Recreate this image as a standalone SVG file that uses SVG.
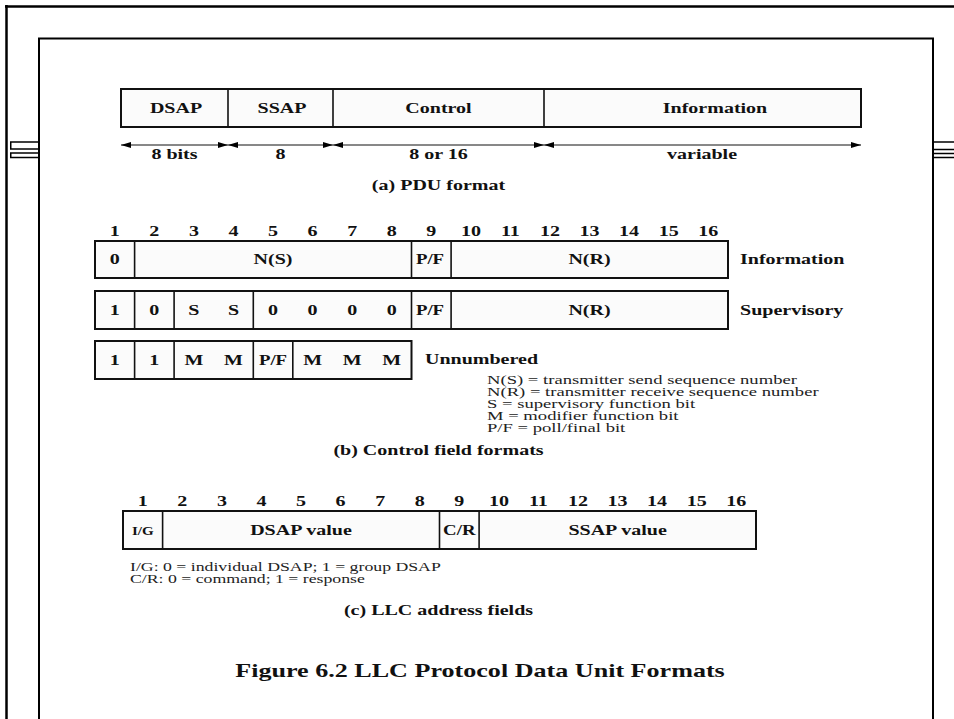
<svg xmlns="http://www.w3.org/2000/svg" width="954" height="719" viewBox="0 0 954 719">
<defs>
<marker id="ah" markerWidth="10" markerHeight="6" refX="10" refY="3" orient="auto-start-reverse" markerUnits="userSpaceOnUse">
<path d="M0,0 L10,3 L0,6 z" fill="#000"/>
</marker>
<style>
text{font-family:"Liberation Serif","Times New Roman",serif;fill:#111}
.b{font-weight:bold;font-size:14.5px;text-anchor:middle}
.bl{font-weight:bold;font-size:14.5px;text-anchor:start}
.r{font-size:12.5px;text-anchor:start;fill:#222}
.cap{font-weight:bold;font-size:18px;text-anchor:middle}
.box{fill:#fbfbfb;stroke:#111;stroke-width:2}
.div{stroke:#111;stroke-width:1.6}
.frame{stroke:#000;fill:none}
.dim{stroke:#111;stroke-width:1}
</style>
</defs>
<rect width="954" height="719" fill="#fff"/>
<g id="frame">
<line class="frame" x1="5" y1="6.5" x2="954" y2="6.5" stroke-width="2.5"/>
<line class="frame" x1="6.5" y1="5" x2="6.5" y2="719" stroke-width="2.5"/>
<line class="frame" x1="38" y1="38.5" x2="934" y2="38.5" stroke-width="2"/>
<line class="frame" x1="39" y1="38" x2="39" y2="719" stroke-width="2"/>
<line class="frame" x1="933" y1="38" x2="933" y2="719" stroke-width="2"/>
<rect class="frame" x="10.75" y="142" width="28" height="7" stroke-width="1.5"/>
<rect class="frame" x="10.75" y="153" width="28" height="4.5" stroke-width="1.5"/>
<line class="frame" x1="934" y1="142" x2="954" y2="142" stroke-width="1.5" stroke="#444"/>
<line class="frame" x1="934" y1="149.5" x2="954" y2="149.5" stroke-width="1.5"/>
<line class="frame" x1="934" y1="153.5" x2="954" y2="153.5" stroke-width="1.5"/>
<line class="frame" x1="934" y1="157.5" x2="954" y2="157.5" stroke-width="1.5"/>
</g>

<g id="pdu">
<rect class="box" x="121" y="89" width="740" height="38" stroke-width="1.6"/>
<line class="div" x1="228" y1="89" x2="228" y2="127"/>
<line class="div" x1="333" y1="89" x2="333" y2="127"/>
<line class="div" x1="544" y1="89" x2="544" y2="127"/>
<text class="b" transform="translate(176,113) scale(1.38,1)">DSAP</text>
<text class="b" transform="translate(282,113) scale(1.38,1)">SSAP</text>
<text class="b" transform="translate(438.5,113) scale(1.38,1)">Control</text>
<text class="b" transform="translate(715,113) scale(1.38,1)">Information</text>
<text class="b" transform="translate(174.5,159) scale(1.38,1)">8 bits</text>
<text class="b" transform="translate(280.5,159) scale(1.38,1)">8</text>
<text class="b" transform="translate(438.5,159) scale(1.38,1)">8 or 16</text>
<text class="b" transform="translate(702,159) scale(1.38,1)">variable</text>
<text class="b" transform="translate(438.5,190) scale(1.38,1)">(a) PDU format</text>
</g>

<g id="connectors">
<line class="dim" x1="121" y1="145" x2="228" y2="145" marker-start="url(#ah)" marker-end="url(#ah)"/>
<line class="dim" x1="228" y1="145" x2="333" y2="145" marker-start="url(#ah)" marker-end="url(#ah)"/>
<line class="dim" x1="333" y1="145" x2="544" y2="145" marker-start="url(#ah)" marker-end="url(#ah)"/>
<line class="dim" x1="544" y1="145" x2="861" y2="145" marker-start="url(#ah)" marker-end="url(#ah)"/>
</g>

<g id="control-bits">
<text class="b" transform="translate(114.8,236) scale(1.38,1)">1</text>
<text class="b" transform="translate(154.3,236) scale(1.38,1)">2</text>
<text class="b" transform="translate(193.9,236) scale(1.38,1)">3</text>
<text class="b" transform="translate(233.5,236) scale(1.38,1)">4</text>
<text class="b" transform="translate(273,236) scale(1.38,1)">5</text>
<text class="b" transform="translate(312.6,236) scale(1.38,1)">6</text>
<text class="b" transform="translate(352.2,236) scale(1.38,1)">7</text>
<text class="b" transform="translate(391.7,236) scale(1.38,1)">8</text>
<text class="b" transform="translate(431.3,236) scale(1.38,1)">9</text>
<text class="b" transform="translate(470.9,236) scale(1.38,1)">10</text>
<text class="b" transform="translate(510.4,236) scale(1.38,1)">11</text>
<text class="b" transform="translate(550,236) scale(1.38,1)">12</text>
<text class="b" transform="translate(589.6,236) scale(1.38,1)">13</text>
<text class="b" transform="translate(629.1,236) scale(1.38,1)">14</text>
<text class="b" transform="translate(668.7,236) scale(1.38,1)">15</text>
<text class="b" transform="translate(708.3,236) scale(1.38,1)">16</text>
</g>

<g id="information-format">
<rect class="box" x="95" y="241" width="633" height="37"/>
<line class="div" x1="134.6" y1="241" x2="134.6" y2="278"/>
<line class="div" x1="411.5" y1="241" x2="411.5" y2="278" stroke-width="2"/>
<line class="div" x1="451.1" y1="241" x2="451.1" y2="278"/>
<text class="b" transform="translate(114.8,264) scale(1.38,1)">0</text>
<text class="b" transform="translate(273,264) scale(1.38,1)">N(S)</text>
<text class="b" transform="translate(430,264) scale(1.3,1)">P/F</text>
<text class="b" transform="translate(589.5,264) scale(1.38,1)">N(R)</text>
<text class="bl" transform="translate(740,264) scale(1.38,1)">Information</text>
</g>

<g id="supervisory-format">
<rect class="box" x="95" y="291" width="633" height="38"/>
<line class="div" x1="134.6" y1="291" x2="134.6" y2="329"/>
<line class="div" x1="174.1" y1="291" x2="174.1" y2="329"/>
<line class="div" x1="253.3" y1="291" x2="253.3" y2="329"/>
<line class="div" x1="411.5" y1="291" x2="411.5" y2="329" stroke-width="2"/>
<line class="div" x1="451.1" y1="291" x2="451.1" y2="329"/>
<text class="b" transform="translate(114.8,315) scale(1.38,1)">1</text>
<text class="b" transform="translate(154.3,315) scale(1.38,1)">0</text>
<text class="b" transform="translate(193.9,315) scale(1.38,1)">S</text>
<text class="b" transform="translate(233.5,315) scale(1.38,1)">S</text>
<text class="b" transform="translate(273,315) scale(1.38,1)">0</text>
<text class="b" transform="translate(312.6,315) scale(1.38,1)">0</text>
<text class="b" transform="translate(352.2,315) scale(1.38,1)">0</text>
<text class="b" transform="translate(391.7,315) scale(1.38,1)">0</text>
<text class="b" transform="translate(430,315) scale(1.3,1)">P/F</text>
<text class="b" transform="translate(589.5,315) scale(1.38,1)">N(R)</text>
<text class="bl" transform="translate(740,315) scale(1.38,1)">Supervisory</text>
</g>

<g id="unnumbered-format">
<rect class="box" x="95" y="341" width="316.5" height="38"/>
<line class="div" x1="134.6" y1="341" x2="134.6" y2="379"/>
<line class="div" x1="174.1" y1="341" x2="174.1" y2="379"/>
<line class="div" x1="253.3" y1="341" x2="253.3" y2="379"/>
<line class="div" x1="292.8" y1="341" x2="292.8" y2="379"/>
<text class="b" transform="translate(114.8,365) scale(1.38,1)">1</text>
<text class="b" transform="translate(154.3,365) scale(1.38,1)">1</text>
<text class="b" transform="translate(193.9,365) scale(1.38,1)">M</text>
<text class="b" transform="translate(233.5,365) scale(1.38,1)">M</text>
<text class="b" transform="translate(273,365) scale(1.3,1)">P/F</text>
<text class="b" transform="translate(312.6,365) scale(1.38,1)">M</text>
<text class="b" transform="translate(352.2,365) scale(1.38,1)">M</text>
<text class="b" transform="translate(391.7,365) scale(1.38,1)">M</text>
<text class="bl" transform="translate(425,364) scale(1.38,1)">Unnumbered</text>
</g>

<g id="legend">
<text class="r" transform="translate(487,384) scale(1.49,1)">N(S) = transmitter send sequence number</text>
<text class="r" transform="translate(487,396) scale(1.49,1)">N(R) = transmitter receive sequence number</text>
<text class="r" transform="translate(487,408) scale(1.49,1)">S = supervisory function bit</text>
<text class="r" transform="translate(487,420) scale(1.49,1)">M = modifier function bit</text>
<text class="r" transform="translate(487,432) scale(1.49,1)">P/F = poll/final bit</text>
<text class="b" transform="translate(438.5,455) scale(1.38,1)">(b) Control field formats</text>
</g>

<g id="address-bits">
<text class="b" transform="translate(142.8,506) scale(1.38,1)">1</text>
<text class="b" transform="translate(182.3,506) scale(1.38,1)">2</text>
<text class="b" transform="translate(221.9,506) scale(1.38,1)">3</text>
<text class="b" transform="translate(261.5,506) scale(1.38,1)">4</text>
<text class="b" transform="translate(301,506) scale(1.38,1)">5</text>
<text class="b" transform="translate(340.6,506) scale(1.38,1)">6</text>
<text class="b" transform="translate(380.2,506) scale(1.38,1)">7</text>
<text class="b" transform="translate(419.7,506) scale(1.38,1)">8</text>
<text class="b" transform="translate(459.3,506) scale(1.38,1)">9</text>
<text class="b" transform="translate(498.9,506) scale(1.38,1)">10</text>
<text class="b" transform="translate(538.4,506) scale(1.38,1)">11</text>
<text class="b" transform="translate(578,506) scale(1.38,1)">12</text>
<text class="b" transform="translate(617.6,506) scale(1.38,1)">13</text>
<text class="b" transform="translate(657.1,506) scale(1.38,1)">14</text>
<text class="b" transform="translate(696.7,506) scale(1.38,1)">15</text>
<text class="b" transform="translate(736.3,506) scale(1.38,1)">16</text>
</g>

<g id="address-fields">
<rect class="box" x="123" y="511" width="633" height="38"/>
<line class="div" x1="162.6" y1="511" x2="162.6" y2="549" stroke-width="2"/>
<line class="div" x1="439.5" y1="511" x2="439.5" y2="549"/>
<line class="div" x1="479.1" y1="511" x2="479.1" y2="549"/>
<text class="b" transform="translate(142.8,535) scale(1.2,1)" style="font-size:12.5px">I/G</text>
<text class="b" transform="translate(301,535) scale(1.38,1)">DSAP value</text>
<text class="b" transform="translate(459.3,535) scale(1.3,1)">C/R</text>
<text class="b" transform="translate(617.6,535) scale(1.38,1)">SSAP value</text>
</g>

<g id="address-notes">
<text class="r" transform="translate(130,571) scale(1.42,1)">I/G: 0 = individual DSAP; 1 = group DSAP</text>
<text class="r" transform="translate(130,583) scale(1.42,1)">C/R: 0 = command; 1 = response</text>
<text class="b" transform="translate(438.5,615) scale(1.38,1)">(c) LLC address fields</text>
</g>

<g id="caption">
<text class="cap" transform="translate(480,677) scale(1.45,1)">Figure 6.2  LLC Protocol Data Unit Formats</text>
</g>
</svg>
